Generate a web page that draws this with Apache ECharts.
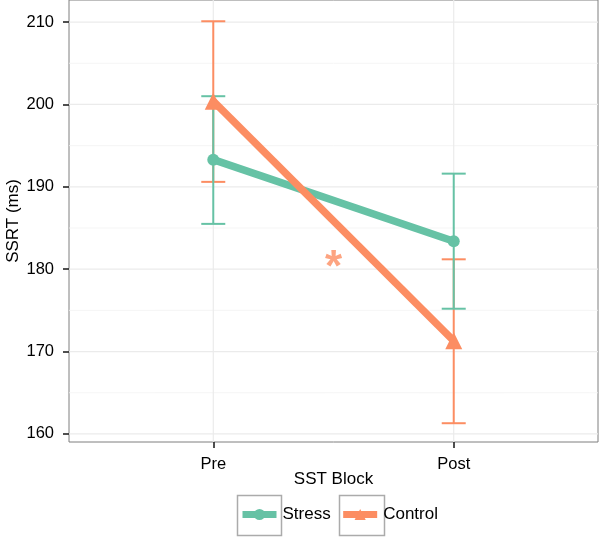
<!DOCTYPE html>
<html><head><meta charset="utf-8">
<script src="https://cdn.jsdelivr.net/npm/echarts@6/dist/echarts.min.js"></script>
<style>html,body{margin:0;padding:0;background:#fff}#c{width:600px;height:538px}</style>
</head><body><div id="c"></div>
<script>
const categories = ['Pre', 'Post'];
const seriesNames = ['Stress', 'Control'];
const stressMean = [193.3, 183.4];
const stressLow = [185.5, 175.2];
const stressHigh = [201.0, 191.6];
const controlMean = [200.4, 171.3];
const controlLow = [190.6, 161.3];
const controlHigh = [210.1, 181.2];
const yTicks = [160, 170, 180, 190, 200, 210];
const yMinor = [165, 175, 185, 195, 205];
const xPositions = [1, 2];
const starPos = [1.5, 180.1];

const GREEN = '#66C2A5', ORANGE = '#FC8D62';
const FONT = 'Liberation Sans, Arial, sans-serif';

function errData(low, high) { return xPositions.map((x, i) => [x, low[i], high[i]]); }
function lineData(mean) { return xPositions.map((x, i) => [x, mean[i]]); }

function errRender(color) {
  return function (params, api) {
    const x = api.value(0);
    const lo = api.coord([x, api.value(1)]);
    const hi = api.coord([x, api.value(2)]);
    const hw = 12;
    const st = { stroke: color, lineWidth: 2 };
    return { type: 'group', children: [
      { type: 'line', shape: { x1: lo[0], y1: lo[1], x2: hi[0], y2: hi[1] }, style: st },
      { type: 'line', shape: { x1: lo[0] - hw, y1: lo[1], x2: lo[0] + hw, y2: lo[1] }, style: st },
      { type: 'line', shape: { x1: hi[0] - hw, y1: hi[1], x2: hi[0] + hw, y2: hi[1] }, style: st }
    ]};
  };
}
function hGrid(width, color) {
  return function (params, api) {
    const cs = params.coordSys;
    const p = api.coord([0.4, api.value(0)]);
    return { type: 'line', shape: { x1: cs.x, y1: p[1], x2: cs.x + cs.width, y2: p[1] }, style: { stroke: color, lineWidth: width } };
  };
}
function vGrid(params, api) {
  const cs = params.coordSys;
  const p = api.coord([api.value(0), 180]);
  return { type: 'line', shape: { x1: p[0], y1: cs.y, x2: p[0], y2: cs.y + cs.height }, style: { stroke: '#EBEBEB', lineWidth: 1.2 } };
}

const chart = echarts.init(document.getElementById('c'), null, { renderer: 'canvas' });
chart.setOption({
  animation: false,
  textStyle: { fontFamily: FONT },
  grid: { left: 69, right: 2, top: 0, bottom: 96, show: true, borderColor: '#7F7F7F', borderWidth: 1, backgroundColor: '#fff', outerBoundsMode: 'none', containLabel: false },
  xAxis: {
    type: 'value', min: 0.4, max: 2.6,
    name: 'SST Block', nameLocation: 'middle', nameGap: 29, nameMoveOverlap: false,
    nameTextStyle: { fontSize: 17, color: '#000', fontFamily: FONT },
    axisLine: { show: false },
    axisTick: { show: true, customValues: xPositions, length: 6, lineStyle: { color: '#222', width: 1.6 } },
    axisLabel: { customValues: xPositions, margin: 14, fontSize: 16.5, color: '#000', fontFamily: FONT,
      formatter: v => categories[Math.round(v) - 1] || '' },
    splitLine: { show: false }
  },
  yAxis: {
    type: 'value', min: 159.02, max: 212.68,
    name: 'SSRT (ms)', nameLocation: 'middle', nameGap: 47, nameMoveOverlap: false,
    nameTextStyle: { fontSize: 17, color: '#000', fontFamily: FONT },
    axisLine: { show: false },
    axisTick: { show: true, customValues: yTicks, length: 6, lineStyle: { color: '#222', width: 1.6 } },
    axisLabel: { customValues: yTicks, margin: 15, fontSize: 16.5, color: '#000', fontFamily: FONT },
    splitLine: { show: false }
  },
  legend: {
    data: seriesNames, left: 239, top: 506, orient: 'horizontal', padding: 0,
    itemWidth: 34, itemHeight: 14, itemGap: 9,
    lineStyle: { width: 7 },
    textStyle: { fontSize: 17, color: '#000', fontFamily: FONT, padding: [0, 0, 0, 1] }
  },
  graphic: [
    { type: 'rect', left: 235, top: 493, shape: { width: 44, height: 40 }, style: { fill: 'none', stroke: '#ABABAB', lineWidth: 1.5 }, z: -1 },
    { type: 'rect', left: 337, top: 493, shape: { width: 45, height: 40 }, style: { fill: 'none', stroke: '#ABABAB', lineWidth: 1.5 }, z: -1 }
  ],
  series: [
    { type: 'custom', name: 'minor', data: yMinor.map(v => [v]), renderItem: hGrid(0.8, '#F2F2F2'), silent: true, z: 0 },
    { type: 'custom', name: 'major', data: yTicks.map(v => [v]), renderItem: hGrid(1.2, '#EBEBEB'), silent: true, z: 0 },
    { type: 'custom', name: 'vmajor', data: xPositions.map(v => [v]), renderItem: vGrid, silent: true, z: 0 },
    { type: 'custom', name: 'ControlErr', data: errData(controlLow, controlHigh), renderItem: errRender(ORANGE), z: 1 },
    { type: 'custom', name: 'StressErr', data: errData(stressLow, stressHigh), renderItem: errRender(GREEN), z: 1 },
    { type: 'line', name: 'Stress', data: lineData(stressMean), color: GREEN, symbol: 'circle', symbolSize: 12,
      lineStyle: { width: 7.5, color: GREEN }, itemStyle: { color: GREEN }, z: 2 },
    { type: 'line', name: 'Control', data: lineData(controlMean), color: ORANGE, symbol: 'triangle', symbolSize: 17,
      lineStyle: { width: 7.5, color: ORANGE }, itemStyle: { color: ORANGE }, z: 3 },
    { type: 'scatter', name: 'star', data: [starPos], symbolSize: 0, z: 4,
      label: { show: true, position: 'inside', formatter: '*', fontSize: 44, fontWeight: 'bold', color: ORANGE, fontFamily: FONT } }
  ]
});
</script></body></html>
